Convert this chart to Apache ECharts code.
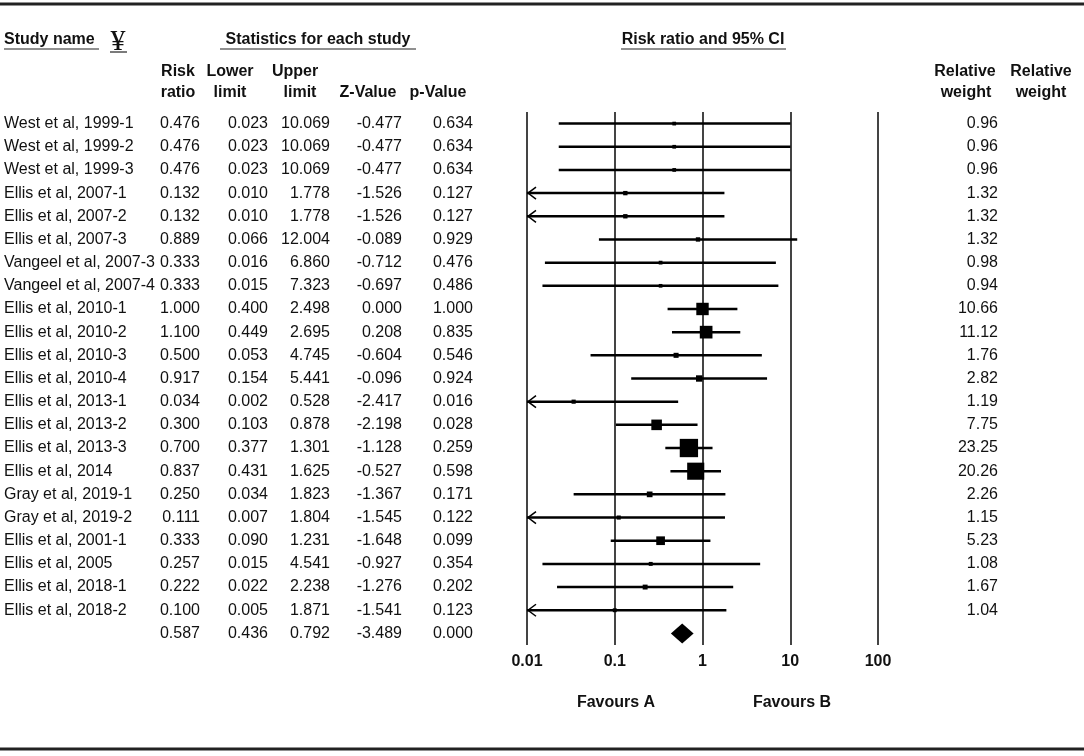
<!DOCTYPE html>
<html>
<head>
<meta charset="utf-8">
<script src="https://cdn.jsdelivr.net/npm/echarts@6/dist/echarts.min.js"></script>
<style>
html, body { margin: 0; padding: 0; background: #fff; }
#main { width: 1084px; height: 756px; }
</style>
</head>
<body>
<div id="main"></div>
<script>
// study data
var studyNames = ['West et al, 1999-1', 'West et al, 1999-2', 'West et al, 1999-3', 'Ellis et al, 2007-1',
    'Ellis et al, 2007-2', 'Ellis et al, 2007-3', 'Vangeel et al, 2007-3', 'Vangeel et al, 2007-4',
    'Ellis et al, 2010-1', 'Ellis et al, 2010-2', 'Ellis et al, 2010-3', 'Ellis et al, 2010-4',
    'Ellis et al, 2013-1', 'Ellis et al, 2013-2', 'Ellis et al, 2013-3', 'Ellis et al, 2014',
    'Gray et al, 2019-1', 'Gray et al, 2019-2', 'Ellis et al, 2001-1', 'Ellis et al, 2005',
    'Ellis et al, 2018-1', 'Ellis et al, 2018-2'];
var riskRatio = [0.476, 0.476, 0.476, 0.132, 0.132, 0.889, 0.333, 0.333, 1.000, 1.100, 0.500,
    0.917, 0.034, 0.300, 0.700, 0.837, 0.250, 0.111, 0.333, 0.257, 0.222, 0.100];
var lowerLimit = [0.023, 0.023, 0.023, 0.010, 0.010, 0.066, 0.016, 0.015, 0.400, 0.449, 0.053,
    0.154, 0.002, 0.103, 0.377, 0.431, 0.034, 0.007, 0.090, 0.015, 0.022, 0.005];
var upperLimit = [10.069, 10.069, 10.069, 1.778, 1.778, 12.004, 6.860, 7.323, 2.498, 2.695, 4.745,
    5.441, 0.528, 0.878, 1.301, 1.625, 1.823, 1.804, 1.231, 4.541, 2.238, 1.871];
var zValue = [-0.477, -0.477, -0.477, -1.526, -1.526, -0.089, -0.712, -0.697, 0.000, 0.208, -0.604,
    -0.096, -2.417, -2.198, -1.128, -0.527, -1.367, -1.545, -1.648, -0.927, -1.276, -1.541];
var pValue = [0.634, 0.634, 0.634, 0.127, 0.127, 0.929, 0.476, 0.486, 1.000, 0.835, 0.546,
    0.924, 0.016, 0.028, 0.259, 0.598, 0.171, 0.122, 0.099, 0.354, 0.202, 0.123];
var relWeight = [0.96, 0.96, 0.96, 1.32, 1.32, 1.32, 0.98, 0.94, 10.66, 11.12, 1.76,
    2.82, 1.19, 7.75, 23.25, 20.26, 2.26, 1.15, 5.23, 1.08, 1.67, 1.04];
// pooled: risk ratio, lower, upper, z, p
var summaryStats = [0.587, 0.436, 0.792, -3.489, 0.000];
var tickLabels = ['0.01', '0.1', '1', '10', '100'];

var FONT = '"Liberation Sans", Arial, sans-serif';
var INK = '#111';
var rowCats = studyNames.concat(['Overall']);
var summaryRow = studyNames.length;

// right edges of the statistics columns
var statCols = [200, 268, 330, 402, 473];
var weightCol = 998;

var studyData = [];
var tableData = [];
for (var i = 0; i < studyNames.length; i++) {
    studyData.push([riskRatio[i], lowerLimit[i], upperLimit[i], relWeight[i], i]);
    tableData.push([1, i]);
}
tableData.push([1, summaryRow]);

function txt(x, y, s, align, bold, size) {
    return {
        type: 'text',
        x: x, y: y,
        style: {
            text: s, fill: INK, align: align || 'left', verticalAlign: 'middle',
            font: (bold ? 'bold ' : '') + (size || 16) + 'px ' + FONT
        }
    };
}

function renderStudy(params, api) {
    var rr = api.value(0), lo = api.value(1), up = api.value(2), w = api.value(3), idx = api.value(4);
    var y = api.coord([1, idx])[1];
    var xLo = api.coord([Math.max(lo, 0.01), idx])[0];
    var xUp = api.coord([Math.min(up, 100), idx])[0];
    var xRr = api.coord([rr, idx])[0];
    var s = Math.max(3, 3.8 * Math.sqrt(w));
    var kids = [{
        type: 'line',
        shape: { x1: xLo, y1: y, x2: xUp, y2: y },
        style: { stroke: '#000', lineWidth: 2.5 }
    }, {
        type: 'rect',
        shape: { x: xRr - s / 2, y: y - s / 2, width: s, height: s },
        style: { fill: '#000' }
    }];
    // lower limit off the scale: open arrow head at 0.01
    if (lo <= 0.01) {
        kids.push({
            type: 'polyline',
            shape: { points: [[xLo + 9, y - 6], [xLo + 1, y], [xLo + 9, y + 6]] },
            style: { stroke: '#000', lineWidth: 1.5, fill: null }
        });
    }
    return { type: 'group', children: kids };
}

function renderSummary(params, api) {
    var y = api.coord([1, summaryRow])[1];
    var xRr = api.coord([summaryStats[0], summaryRow])[0];
    var xLo = api.coord([summaryStats[1], summaryRow])[0];
    var xUp = api.coord([summaryStats[2], summaryRow])[0];
    return {
        type: 'polygon',
        shape: { points: [[xLo, y], [xRr, y - 10], [xUp, y], [xRr, y + 10]] },
        style: { fill: '#000' }
    };
}

function renderTable(params, api) {
    var idx = api.value(1);
    var y = api.coord([1, idx])[1];
    var vals, kids = [];
    if (idx === summaryRow) {
        vals = summaryStats;
    } else {
        vals = [riskRatio[idx], lowerLimit[idx], upperLimit[idx], zValue[idx], pValue[idx]];
        kids.push(txt(4, y, studyNames[idx], 'left'));
        kids.push(txt(weightCol, y, relWeight[idx].toFixed(2), 'right'));
    }
    for (var c = 0; c < vals.length; c++) {
        kids.push(txt(statCols[c], y, vals[c].toFixed(3), 'right'));
    }
    return { type: 'group', children: kids };
}

function hdr(x, y, s, align) {
    return {
        type: 'text', x: x, y: y,
        style: { text: s, fill: INK, align: align || 'center', verticalAlign: 'middle', font: 'bold 16px ' + FONT }
    };
}
function rule(x1, x2, y, w) {
    return { type: 'line', shape: { x1: x1, y1: y, x2: x2, y2: y }, style: { stroke: '#222', lineWidth: w } };
}

var chart = echarts.init(document.getElementById('main'), null, { renderer: 'canvas' });
chart.setOption({
    animation: false,
    backgroundColor: '#fff',
    grid: { left: 527, width: 351, top: 112, height: 533, containLabel: false, outerBoundsMode: 'none' },
    xAxis: {
        type: 'log', logBase: 10, min: 0.01, max: 100,
        axisLine: { show: false },
        axisTick: { show: false },
        axisLabel: {
            margin: 9, color: INK, fontWeight: 'bold', fontSize: 16, fontFamily: FONT,
            formatter: function (v) { return tickLabels[Math.round(Math.log10(v)) + 2]; }
        },
        splitLine: { show: true, showMinLine: true, showMaxLine: true, lineStyle: { color: '#444', width: 2 } }
    },
    yAxis: {
        type: 'category', data: rowCats, inverse: true,
        axisLine: { show: false }, axisTick: { show: false }, axisLabel: { show: false }, splitLine: { show: false }
    },
    graphic: [
        rule(0, 1084, 4, 3),
        rule(0, 1084, 749, 3),
        hdr(4, 40, 'Study name', 'left'),
        rule(4, 99, 49, 1.2),
        { type: 'text', x: 118, y: 42, style: { text: '¥', fill: INK, align: 'center', verticalAlign: 'middle', font: '30px "Liberation Serif", serif' } },
        rule(110, 127, 52, 1.2),
        hdr(318, 40, 'Statistics for each study'),
        rule(220, 416, 49, 1.2),
        hdr(703, 40, 'Risk ratio and 95% CI'),
        rule(621, 786, 49, 1.2),
        hdr(178, 72, 'Risk'), hdr(178, 93, 'ratio'),
        hdr(230, 72, 'Lower'), hdr(230, 93, 'limit'),
        hdr(295, 72, 'Upper'), hdr(300, 93, 'limit'),
        hdr(368, 93, 'Z-Value'),
        hdr(438, 93, 'p-Value'),
        hdr(965, 72, 'Relative'), hdr(966, 93, 'weight'),
        hdr(1041, 72, 'Relative'), hdr(1041, 93, 'weight'),
        hdr(616, 703, 'Favours A'),
        hdr(792, 703, 'Favours B')
    ],
    series: [{
        type: 'custom', name: 'studies', clip: false,
        renderItem: renderStudy, data: studyData,
        encode: { x: 0, y: 4 }
    }, {
        type: 'custom', name: 'summary', clip: false,
        renderItem: renderSummary, data: [[summaryStats[0], summaryRow]],
        encode: { x: 0, y: 1 }
    }, {
        type: 'custom', name: 'table', clip: false,
        renderItem: renderTable, data: tableData,
        encode: { x: 0, y: 1 }
    }]
});
</script>
</body>
</html>
